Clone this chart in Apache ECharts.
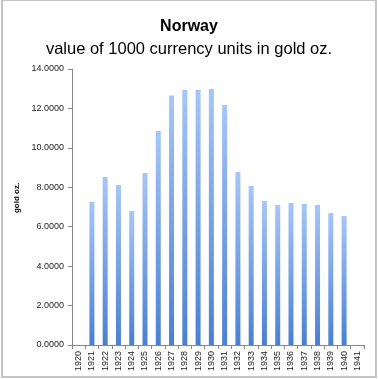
<!DOCTYPE html>
<html>
<head>
<meta charset="utf-8">
<script src="https://cdn.jsdelivr.net/npm/echarts@6/dist/echarts.min.js"></script>
<style>
  html, body { margin: 0; padding: 0; background: #fff; }
  #frame { position: absolute; left: 1px; top: 0; width: 376px; height: 378px; box-sizing: border-box; border: 2px solid #c4c4c4; border-top-width: 1px; }
  #chart { position: absolute; left: 0; top: 0; width: 378px; height: 379px; }
</style>
</head>
<body>
<div id="frame"></div>
<div id="chart"></div>
<script>
const years = ['1920', '1921', '1922', '1923', '1924', '1925', '1926', '1927', '1928', '1929', '1930',
               '1931', '1932', '1933', '1934', '1935', '1936', '1937', '1938', '1939', '1940', '1941'];
const goldOz = [null, 7.27, 8.52, 8.12, 6.80, 8.73, 10.86, 12.65, 12.95, 12.95, 12.99,
                12.18, 8.78, 8.07, 7.31, 7.10, 7.20, 7.15, 7.10, 6.70, 6.54, null];

const chart = echarts.init(document.getElementById('chart'), null, { renderer: 'canvas' });
const font = 'Liberation Sans, Arial, sans-serif';

chart.setOption({
    animation: false,
    title: [
        {
            text: 'Norway',
            left: 'center',
            top: 14,
            textStyle: { fontFamily: font, fontSize: 16, fontWeight: 'bold', color: '#000' }
        },
        {
            text: 'value of 1000 currency units in gold oz.',
            left: 'center',
            top: 36,
            textStyle: { fontFamily: font, fontSize: 16.5, fontWeight: 'normal', color: '#000' }
        }
    ],
    grid: { left: 72, right: 14, top: 69, bottom: 34, containLabel: false },
    xAxis: {
        type: 'category',
        data: years,
        axisLine: { lineStyle: { color: '#888', width: 1 } },
        axisTick: { show: true, alignWithLabel: false, length: 4, lineStyle: { color: '#888' } },
        axisLabel: { rotate: 90, fontFamily: font, fontSize: 9, color: '#222', margin: 6, interval: 0 }
    },
    yAxis: {
        type: 'value',
        min: 0,
        max: 14,
        interval: 2,
        name: 'gold oz.',
        nameLocation: 'middle',
        nameGap: 42,
        nameRotate: 90,
        nameTextStyle: { fontFamily: font, fontSize: 8, fontWeight: 'bold', color: '#000', padding: [0, 0, 0, 18] },
        axisLine: { show: true, lineStyle: { color: '#888', width: 1 } },
        axisTick: { show: true, length: 4, lineStyle: { color: '#888' } },
        splitLine: { show: false },
        axisLabel: {
            fontFamily: font, fontSize: 9, color: '#222', margin: 8,
            formatter: v => v.toFixed(4)
        }
    },
    series: [{
        type: 'bar',
        data: goldOz,
        barWidth: 5,
        itemStyle: {
            color: new echarts.graphic.LinearGradient(0, 0, 0, 1, [
                { offset: 0, color: '#a6c6f7' },
                { offset: 1, color: '#4a80d2' }
            ])
        }
    }]
});
</script>
</body>
</html>
